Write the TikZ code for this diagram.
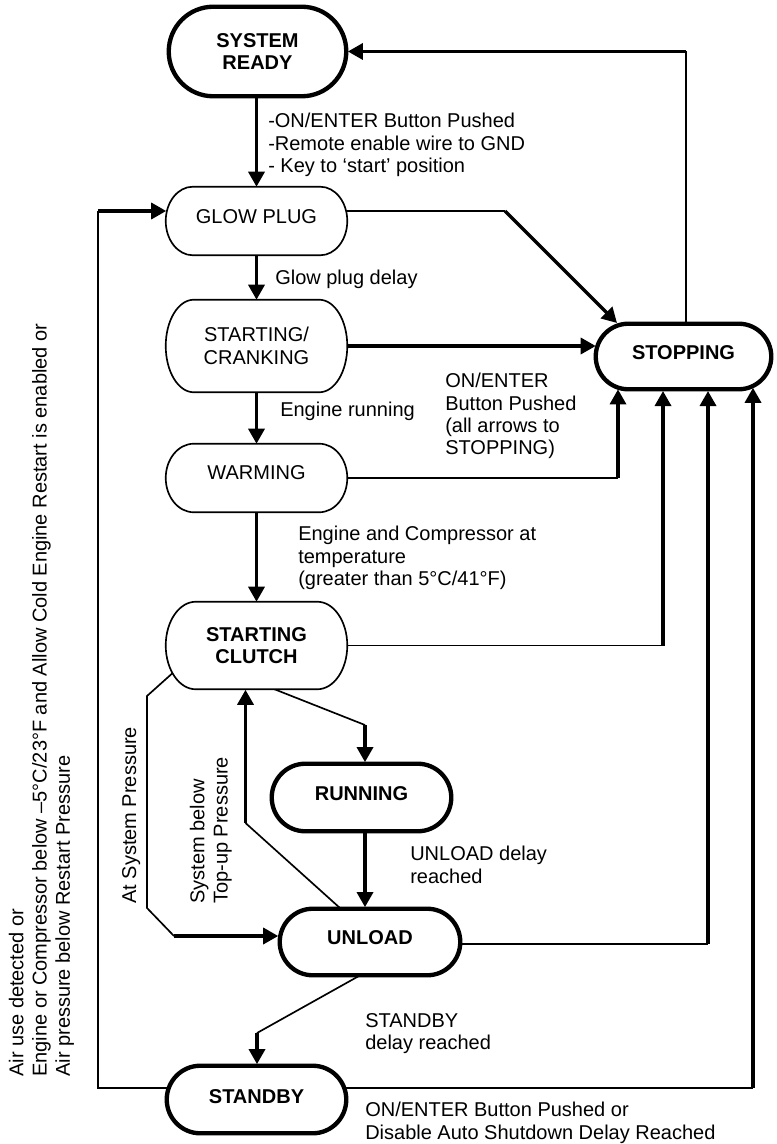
\documentclass[tikz,border=0pt]{standalone}
\usepackage{fontspec}
\setmainfont{Liberation Sans}
\usetikzlibrary{arrows.meta,calc,backgrounds}
\newcommand\stadium[3]{%
  \draw[#3] let \p1=(#1.north east), \p2=(#1.south west),
    \n1={(\y1-\y2)/2}, \n2={#2*0.75pt} in
    (\x2+\n2,\y1) -- (\x1-\n2,\y1)
    arc[start angle=90,end angle=-90,x radius=\n2,y radius=\n1]
    -- (\x2+\n2,\y2)
    arc[start angle=270,end angle=90,x radius=\n2,y radius=\n1] -- cycle;}
\newcommand\txtup[2]{\raisebox{#1}[\height][\depth]{#2}}
\begin{document}
\begin{tikzpicture}[x=0.75pt,y=-0.75pt,
  font=\fontsize{15}{16.75}\selectfont,
  st/.style={inner sep=0pt, align=center},
  bst/.style={st, font=\fontsize{15}{16.75}\selectfont\bfseries},
  lbl/.style={anchor=north west, inner sep=0pt, align=left},
  vlbl/.style={anchor=north west, inner sep=0pt, align=left, rotate=90,
    font=\fontsize{15}{17.5}\selectfont},
  thinln/.style={line width=1.25pt},
  thkarr/.style={line width=2.5pt, -{Triangle[length=11.25pt,width=12pt]}},
  thickbd/.style={line width=3.25pt, fill=white},
  thinbd/.style={line width=1.25pt, fill=white},
]
\useasboundingbox (0,0) rectangle (776,1144);

% ---- states ----
\node[bst, minimum width=132.75pt, minimum height=66.75pt] (sr) at (257.5,51.5) {SYSTEM\\READY};
\node[st, minimum width=135.75pt, minimum height=51pt] (glow) at (256.5,221) {\txtup{3pt}{GLOW PLUG}};
\node[st, minimum width=135.75pt, minimum height=69pt] (crank) at (256.5,346) {STARTING/\\CRANKING};
\node[st, minimum width=135.75pt, minimum height=51pt] (warm) at (256.5,478) {\txtup{3.75pt}{WARMING}};
\node[bst, minimum width=135.75pt, minimum height=65.25pt] (clutch) at (256.5,645.5) {STARTING\\CLUTCH};
\node[bst, minimum width=134.25pt, minimum height=50.25pt] (running) at (361.5,797.5) {\txtup{2.6pt}{RUNNING}};
\node[bst, minimum width=135pt, minimum height=49.5pt] (unload) at (370,942) {\txtup{3pt}{UNLOAD}};
\node[bst, minimum width=134.25pt, minimum height=50.25pt] (standby) at (256.5,1099.5) {\txtup{1.9pt}{STANDBY}};
\node[bst, minimum width=131.25pt, minimum height=48.75pt] (stop) at (683.5,356.5) {\txtup{3.2pt}{STOPPING}};

% ---- labels ----
\node[lbl] (l1) at (268,113) {-ON/ENTER Button Pushed\\-Remote enable wire to GND\\- Key to ‘start’ position};
\node[lbl] (l2) at (275,270) {Glow plug delay};
\node[lbl] (l3) at (280,402) {Engine running};
\node[lbl] (l4) at (445,373) {ON/ENTER\\Button Pushed\\(all arrows to\\STOPPING)};
\node[lbl] (l5) at (298,526) {Engine and Compressor at\\temperature\\(greater than 5°C/41°F)};
\node[lbl] (l6) at (410,846) {UNLOAD delay\\reached};
\node[lbl] (l7) at (365,1013) {STANDBY\\delay reached};
\node[lbl] (l8) at (365,1102) {ON/ENTER Button Pushed or\\Disable Auto Shutdown Delay Reached};
\node[vlbl] (vl) at (8.5,1077) {Air use detected or\\Engine or Compressor below –5°C/23°F and Allow Cold Engine Restart is enabled or\\Air pressure below Restart Pressure};
\node[vlbl] (asp) at (122,904) {At System Pressure};
\node[vlbl] (sbp) at (189.5,904) {System below\\Top-up Pressure};

% ---- connectors ----
\begin{scope}[on background layer]
\coordinate (lb) at (98,1088);
\coordinate (lt) at (98,211);
\coordinate (g1) at (505,211);
\coordinate (t1) at ($(stop.center)+(-65.5,32.9)$);
\coordinate (t2) at ($(stop.center)+(-20.5,34.5)$);
\coordinate (t3) at ($(stop.center)+(24.5,34.5)$);
\coordinate (t4) at ($(stop.center)+(69.5,31.3)$);
\coordinate (s1) at ($(stop.north)+(2.5,0)$);
\coordinate (u1) at ($(unload.center)+(0,2)$);
\coordinate (a1) at (147,696);
\coordinate (a2) at (147,908);
\coordinate (a3) at (174,936);
\coordinate (b1) at (245.5,823);
\coordinate (c1) at (365,725);
\coordinate (d1) at (257,1033);

\draw[thkarr] (glow.north |- sr.center) -- (glow.north);
\draw[thkarr] (glow) -- (crank.north);
\draw[thkarr] (crank) -- (warm.north);
\draw[thkarr] (warm) -- (clutch.north);

\draw[thinln] (lb -| standby.center) -- (lb) -- (lt);
\draw[thkarr] (lt) -- ($(glow.west)+(0.5,-10)$);

\draw[thinln] (glow.center |- g1) -- (g1);
\draw[thkarr] (g1) -- ($(stop.center)+(-66.5,-33.5)$);
\draw[thkarr] (crank.center) -- (crank.center -| stop.west);

\draw[thinln] (stop.center -| s1) -- (s1 |- sr.east);
\draw[thkarr] (s1 |- sr.east) -- ($(sr.east)+(1.6,0)$);

\draw[thinln] (warm.center) -- (warm.center -| t1);
\draw[thkarr] (warm.center -| t1) -- (t1);
\draw[thinln] (clutch.center) -- (clutch.center -| t2);
\draw[thkarr] (clutch.center -| t2) -- (t2);
\draw[thinln] (u1) -- (u1 -| t3);
\draw[thkarr] (u1 -| t3) -- (t3);
\draw[thinln] (lb -| standby.center) -- (lb -| t4);
\draw[thkarr] (lb -| t4) -- (t4);

\draw[thinln] ($(clutch.center)+(-76,20.5)$) -- (a1) -- (a2) -- (a3);
\draw[thkarr] (a3) -- ($(unload.west)+(-1.5,-6)$);

\draw[thinln] ($(unload.north)+(-27,2)$) -- (b1);
\draw[thkarr] (b1) -- ($(clutch.south)+(-11,0.5)$);

\draw[thinln] ($(clutch.south)+(15.5,-1)$) -- (c1);
\draw[thkarr] (c1) -- ($(running.north)+(3.5,-1.6)$);

\draw[thkarr] ($(running.south)+(3.5,0)$) -- ($(unload.north)+(-5,-1.6)$);

\draw[thinln] ($(unload.south)+(-8,-1)$) -- (d1);
\draw[thkarr] (d1) -- ($(standby.north)+(0.5,-1.6)$);

% outlines
\stadium{sr}{44.5}{thickbd}
\stadium{glow}{27}{thinbd}
\stadium{crank}{28}{thinbd}
\stadium{warm}{28}{thinbd}
\stadium{clutch}{30}{thinbd}
\stadium{running}{33.5}{thickbd}
\stadium{unload}{33}{thickbd}
\stadium{standby}{33.5}{thickbd}
\stadium{stop}{32.5}{thickbd}
\end{scope}
\end{tikzpicture}
\end{document}
